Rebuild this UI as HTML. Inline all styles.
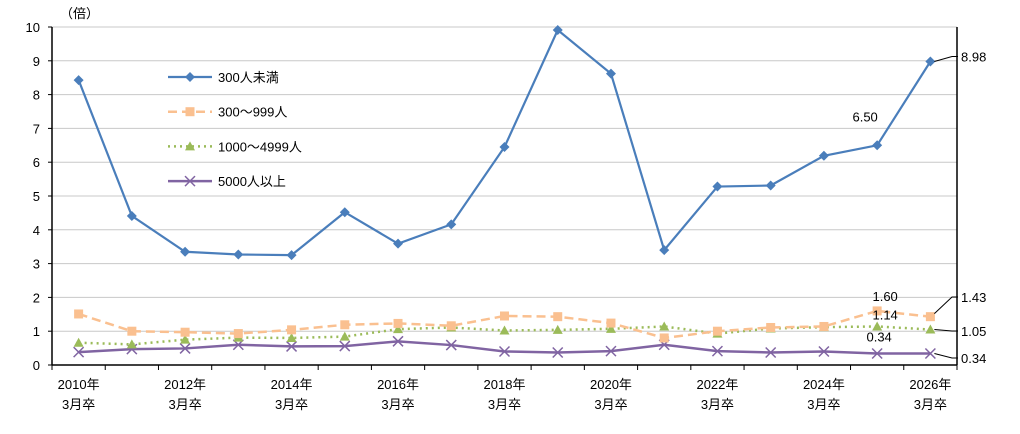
<!DOCTYPE html>
<html><head><meta charset="utf-8"><style>
body{margin:0;background:#fff;font-family:"Liberation Sans","Noto Sans CJK JP",sans-serif;}
svg text{font-family:"Liberation Sans","Noto Sans CJK JP",sans-serif;fill:#000;}
</style></head><body>
<svg id="chart" width="1020" height="429" viewBox="0 0 1020 429" xmlns="http://www.w3.org/2000/svg">
<g id="grid"></g><g id="axes"></g><g id="series"></g><g id="legend"></g><g id="labels"></g>
</svg>
<script>
const years = [2010,2011,2012,2013,2014,2015,2016,2017,2018,2019,2020,2021,2022,2023,2024,2025,2026];
const s300under = [8.43,4.41,3.35,3.27,3.25,4.52,3.59,4.16,6.45,9.91,8.62,3.40,5.28,5.31,6.19,6.50,8.98];
const s300to999 = [1.51,1.00,0.97,0.93,1.04,1.19,1.23,1.16,1.45,1.43,1.24,0.80,1.00,1.11,1.14,1.60,1.43];
const s1000to4999 = [0.66,0.61,0.75,0.81,0.80,0.84,1.06,1.11,1.02,1.04,1.07,1.14,0.93,1.08,1.12,1.14,1.05];
const s5000over = [0.38,0.47,0.49,0.60,0.55,0.56,0.70,0.59,0.40,0.37,0.41,0.60,0.41,0.37,0.40,0.34,0.34];
const yTicks = [0,1,2,3,4,5,6,7,8,9,10];
const seriesNames = ["300人未満","300～999人","1000～4999人","5000人以上"];

const NS="http://www.w3.org/2000/svg";
const L=52,R=957,T=27,B=365;
const step=(R-L)/years.length;
const x=i=>L+step*(i+0.5);
const y=v=>B-(B-T)*v/10;
function mk(tag,attrs,parent){const e=document.createElementNS(NS,tag);for(const k in attrs)e.setAttribute(k,attrs[k]);parent.appendChild(e);return e;}
const grid=document.getElementById('grid'),axes=document.getElementById('axes'),ser=document.getElementById('series'),leg=document.getElementById('legend'),lab=document.getElementById('labels');

yTicks.forEach(t=>{
  if(t>0){const g=mk('line',{x1:L,x2:R,y1:y(t),y2:y(t),stroke:'#c8c8c8','stroke-width':1},grid);
  
  }
  const tx=mk('text',{x:L-12,y:y(t)+5,'text-anchor':'end','font-size':13},axes);tx.textContent=t;
  
  
  const tk=mk('line',{x1:L-4,x2:L,y1:y(t),y2:y(t),stroke:'#000'},axes);
});
const unit=mk('text',{x:60,y:18,'font-size':13},axes);unit.textContent='（倍）';


mk('line',{x1:L,x2:L,y1:T,y2:B,stroke:'#000','stroke-width':1.5},axes);
mk('line',{x1:L,x2:R,y1:B,y2:B,stroke:'#000','stroke-width':1.5},axes);
mk('line',{x1:R,x2:R,y1:T,y2:B,stroke:'#000','stroke-width':1.5},axes);
for(let i=0;i<=years.length;i++){mk('line',{x1:L+step*i,x2:L+step*i,y1:B,y2:B+5,stroke:'#000'},axes);}
years.forEach((yr,i)=>{
  if(i%2===0){
    const a=mk('text',{x:x(i),y:389,'text-anchor':'middle','font-size':13},axes);a.textContent=yr+'年';
    
    
    const b=mk('text',{x:x(i),y:409,'text-anchor':'middle','font-size':13},axes);b.textContent='3月卒';
  }
});

function marker(type,cx,cy,col,p){
  if(type==='diamond')return mk('polygon',{points:`${cx},${cy-5} ${cx+5},${cy} ${cx},${cy+5} ${cx-5},${cy}`,fill:col},p);
  if(type==='square')return mk('rect',{x:cx-4.5,y:cy-4.5,width:9,height:9,fill:col},p);
  if(type==='tri')return mk('polygon',{points:`${cx},${cy-5} ${cx+5},${cy+4} ${cx-5},${cy+4}`,fill:col},p);
  const g=mk('path',{d:`M${cx-5},${cy-5}L${cx+5},${cy+5}M${cx+5},${cy-5}L${cx-5},${cy+5}`,stroke:col,'stroke-width':1.5},p);return g;
}
const defs=[
 {d:s300under,col:'#4a7ebb',dash:'',w:2.2,m:'diamond',key:'300-under'},
 {d:s300to999,col:'#fac090',dash:'9,5',w:2.5,m:'square',key:'300-999'},
 {d:s1000to4999,col:'#9bbb59',dash:'2,4',w:2.5,m:'tri',key:'1000-4999'},
 {d:s5000over,col:'#8064a2',dash:'',w:2.5,m:'x',key:'5000-over'}
];
[3,2,1,0].forEach(k=>{
  const s=defs[k];
  const pl=mk('polyline',{points:s.d.map((v,i)=>x(i)+','+y(v)).join(' '),fill:'none',stroke:s.col,'stroke-width':s.w,'stroke-dasharray':s.dash},ser);
  
  
  s.d.forEach((v,i)=>{const m=marker(s.m,x(i),y(v),s.col,ser);
    
    });
});
// legend
defs.forEach((s,k)=>{
  const ly=77+k*34.7;
  mk('line',{x1:168,x2:212,y1:ly,y2:ly,stroke:s.col,'stroke-width':s.w,'stroke-dasharray':s.dash},leg);
  marker(s.m,190,ly,s.col,leg);
  const t=mk('text',{x:218,y:ly+5,'font-size':13},leg);t.textContent=seriesNames[k];
  
  
});
// value labels
const n=years.length-1;
function lbl(txt,tx,ty,anchor){const t=mk('text',{x:tx,y:ty,'font-size':13,'text-anchor':anchor||'start'},lab);t.textContent=txt;
  
  }
function leader(px,py,ex,ey){mk('polyline',{points:`${px},${py} ${ex-6},${ey} ${ex},${ey}`,fill:'none',stroke:'#000','stroke-width':1},lab);}
leader(x(n)+4,y(s300under[n]),958,y(s300under[n])-5);lbl(s300under[n].toFixed(2),961,y(s300under[n]));
leader(x(n)+4,y(s300to999[n])-3,958,297);lbl(s300to999[n].toFixed(2),961,302);
leader(x(n)+4,y(s1000to4999[n]),958,331);lbl(s1000to4999[n].toFixed(2),961,336);
leader(x(n)+4,y(s5000over[n]),958,358);lbl(s5000over[n].toFixed(2),961,363);
lbl(s300under[n-1].toFixed(2),x(n-1)-12,y(s300under[n-1])-24,'middle');
lbl(s300to999[n-1].toFixed(2),x(n-1)+8,y(s300to999[n-1])-10,'middle');
lbl(s1000to4999[n-1].toFixed(2),x(n-1)+8,y(s1000to4999[n-1])-7,'middle');
lbl(s5000over[n-1].toFixed(2),x(n-1)+2,y(s5000over[n-1])-12,'middle');
</script>
</body></html>
